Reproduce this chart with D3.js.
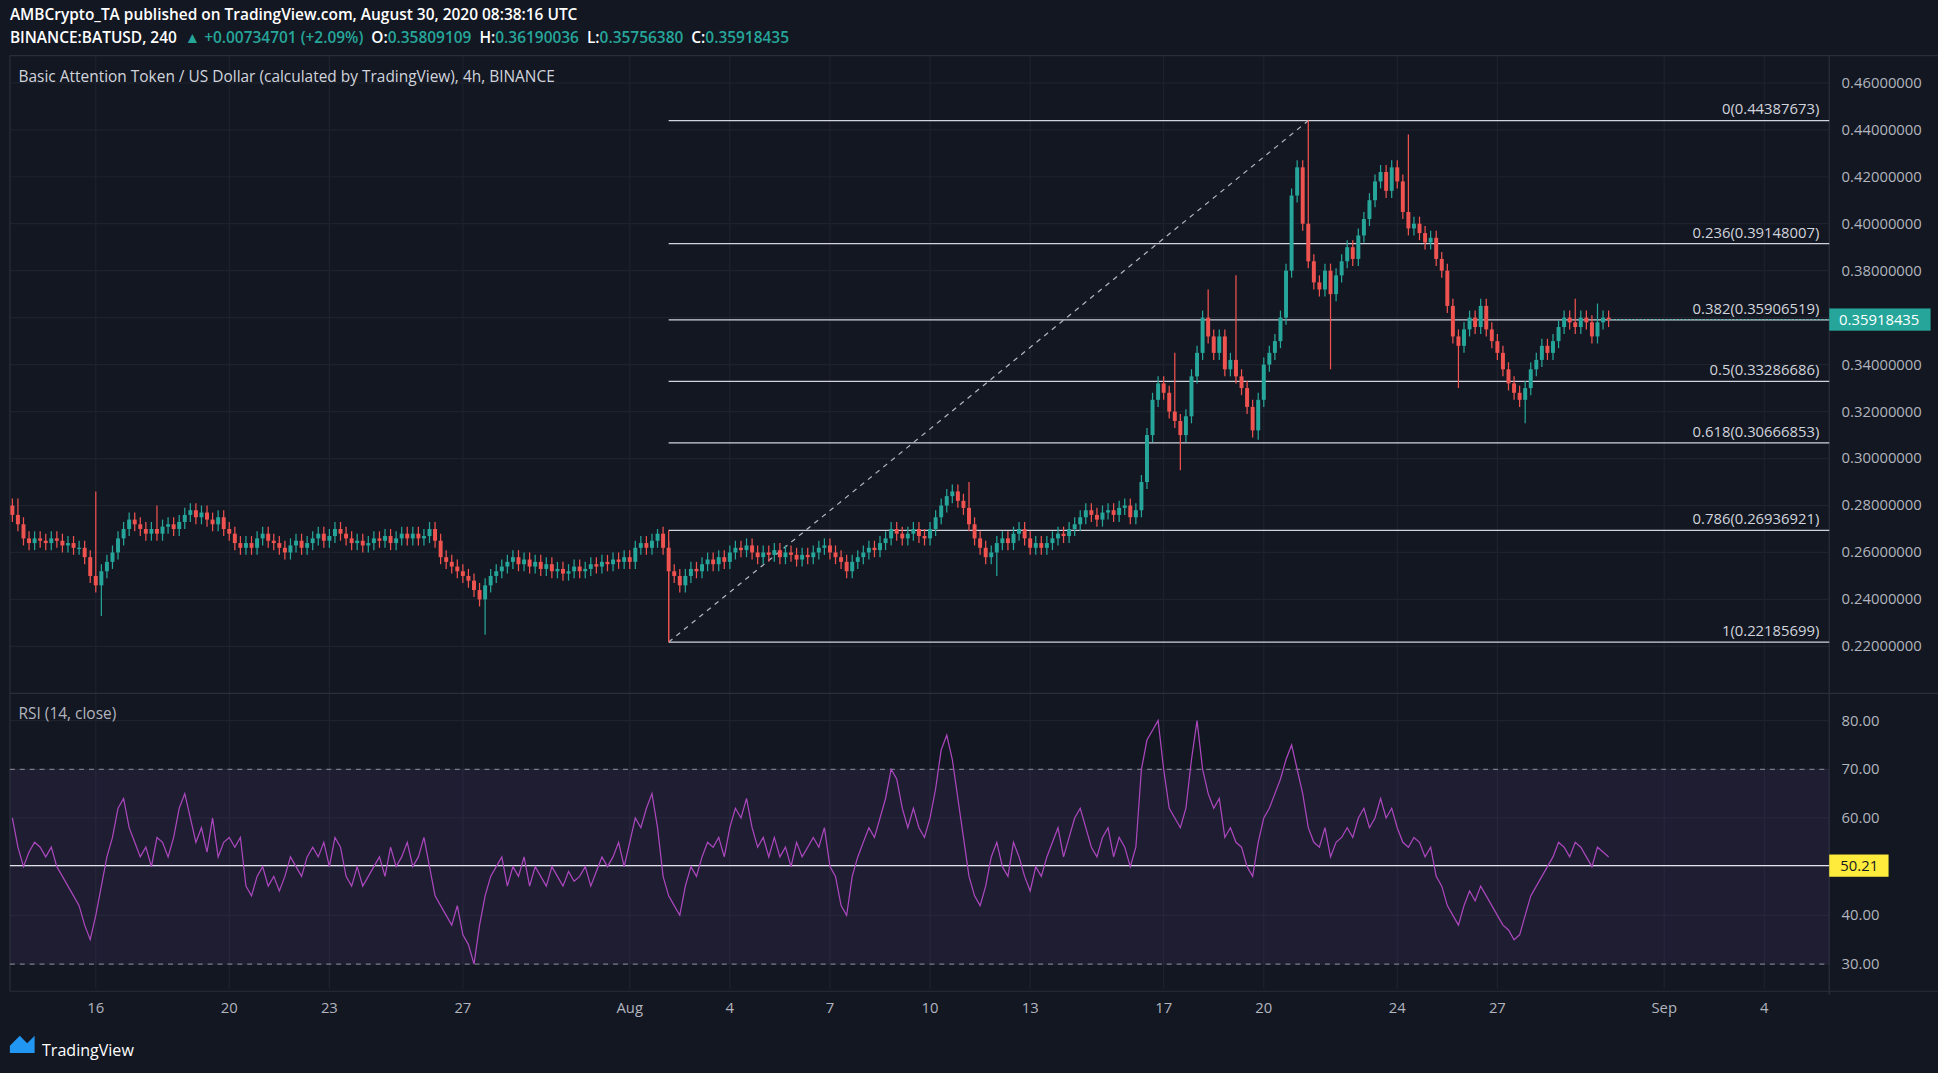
<!DOCTYPE html>
<html><head><meta charset="utf-8">
<script src="https://cdn.jsdelivr.net/npm/d3@7"></script>
<style>body{margin:0;background:#131722;overflow:hidden}text{font-family:"Open Sans",Roboto,sans-serif}</style>
</head><body><svg id="c" width="1938" height="1073"></svg>
<script>
// closes, one per 4h candle, starting Jul 13 12:00
var closes = [
.276,.272,.266,.264,.266,.265, .264,.266,.265,.263,.264,.262, .262,.258,.250,.246,.252,.256,
.260,.266,.270,.274,.272,.270, .268,.270,.268,.271,.272,.270, .273,.276,.278,.275,.277,.274,
.272,.275,.270,.268,.264,.262, .264,.262,.266,.268,.265,.264, .262,.260,.263,.265,.262,.264,
.266,.268,.265,.267,.270,.268, .266,.264,.265,.263,.264,.266, .265,.267,.264,.266,.268,.266,
.268,.266,.267,.270,.265,.258, .256,.254,.252,.250,.248,.244, .240,.246,.250,.252,.254,.256,
.258,.255,.257,.254,.256,.253, .255,.252,.253,.251,.252,.254, .252,.253,.255,.254,.256,.255,
.257,.256,.258,.256,.262,.264, .262,.265,.268,.262,.252,.250, .246,.250,.253,.252,.255,.257,
.255,.258,.256,.260,.262,.261, .263,.260,.258,.260,.259,.261, .258,.260,.259,.257,.259,.258,
.260,.262,.263,.260,.258,.256, .252,.256,.258,.260,.262,.261, .264,.266,.270,.268,.266,.268,
.270,.267,.266,.270,.275,.280, .284,.286,.282,.279,.272,.266, .262,.258,.260,.264,.266,.264,
.268,.270,.266,.262,.264,.262, .264,.266,.268,.267,.270,.272, .275,.278,.276,.274,.277,.278,
.276,.279,.280,.275,.278,.290, .310,.325,.332,.328,.320,.316, .310,.318,.335,.345,.360,.352,
.345,.352,.338,.342,.335,.330, .322,.312,.325,.340,.345,.350, .360,.380,.412,.424,.400,.384,
.375,.372,.380,.370,.378,.384, .390,.385,.395,.402,.410,.418, .422,.414,.424,.418,.405,.398,
.400,.396,.392,.394,.385,.380, .365,.352,.348,.355,.360,.356, .365,.355,.350,.345,.338,.332,
.328,.325,.330,.338,.342,.348, .345,.350,.356,.360,.358,.356, .360,.358,.352,.358,.360,.359];
var firstOpen = .280;
// notable wicks [candle index, price]
var highWicks = [[1,.283],[15,.286],[26,.280],[116,.270],[172,.290],[209,.345],[215,.372],[220,.378],[233,.444],[251,.438],[281,.368],[285,.366]];
var lowWicks = [[16,.233],[85,.225],[118,.222],[177,.250],[210,.295],[224,.308],[237,.338],[260,.330],[272,.315]];
var rsi = [
60,54,50,53,55,54, 52,54,50,48,46,44, 42,38,35,40,46,52, 56,62,64,58,55,52, 54,50,56,55,52,56,
62,65,60,55,58,53, 60,52,55,56,54,56, 46,44,48,50,46,48, 45,48,52,50,48,52, 54,52,55,50,56,54,
48,46,50,46,48,50, 52,48,54,50,52,55, 50,52,56,50,44,42, 40,38,42,36,34,30, 38,44,48,50,52,46,
50,48,52,46,50,48, 46,50,48,46,49,47, 48,50,46,49,52,50, 52,55,50,55,60,58, 62,65,58,48,44,42,
40,46,50,48,52,55, 54,56,52,58,62,60, 64,58,54,56,52,56, 52,54,50,55,52,54, 56,54,58,50,48,42,
40,48,52,55,58,56, 60,64,70,68,62,58, 62,58,56,60,66,74, 77,72,64,56,48,44, 42,46,52,55,50,48,
55,52,48,45,50,48, 52,55,58,52,56,60, 62,58,54,52,56,58, 52,56,54,50,54,70, 76,78,80,70,62,60,
58,62,72,80,70,65, 62,64,56,58,55,54, 50,48,55,60,62,65, 68,72,75,70,65,58, 55,54,58,52,55,56,
58,56,60,62,58,60, 64,60,62,58,55,54, 56,55,52,54,48,46, 42,40,38,42,45,43, 46,44,42,40,38,37,
35,36,40,44,46,48, 50,52,55,54,52,55, 54,52,50,54,53,52];
var fibLevels = [0, 0.236, 0.382, 0.5, 0.618, 0.786, 1];
var fibPrices = [0.44387673, 0.39148007, 0.35906519, 0.33286686, 0.30666853, 0.26936921, 0.22185699];
var fibStart = 118, fibEnd = 233; // candle indexes of the swing low and high
var priceTicks = [0.22,0.24,0.26,0.28,0.30,0.32,0.34,0.36,0.38,0.40,0.42,0.44,0.46];
var rsiTicks = [30,40,50,60,70,80];
var tickDays = [16,20,23,27,32,35,38,41,44,48,51,55,58,63,66]; // days counted from Jul 0
var tickLabels = ['16','20','23','27','Aug','4','7','10','13','17','20','24','27','Sep','4'];

var svg = d3.select('#c');
var g = svg.append('g').attr('transform','scale(' + (1938/1568) + ')');
var W = 1480;
var x = d3.scaleLinear().domain([0, 287]).range([10, 1301.5]);
var y = d3.scaleLinear().domain([0.22, 0.46]).range([523, 67]);
var yr = d3.scaleLinear().domain([30, 80]).range([780, 583]);
var dayIdx = function(d){ return (d - 13.5) * 6; };

// grid
g.selectAll('.gh').data(priceTicks).enter().append('line').attr('x1',8).attr('x2',W)
  .attr('y1',d=>y(d)).attr('y2',d=>y(d)).attr('stroke','#1e222d');
g.selectAll('.gr').data(rsiTicks).enter().append('line').attr('x1',8).attr('x2',W)
  .attr('y1',d=>yr(d)).attr('y2',d=>yr(d)).attr('stroke','#1e222d');
g.selectAll('.gv').data(tickDays).enter().append('line').attr('y1',45).attr('y2',800)
  .attr('x1',d=>x(dayIdx(d))).attr('x2',d=>x(dayIdx(d))).attr('stroke','#1e222d');

// pane borders
g.append('line').attr('x1',W).attr('x2',W).attr('y1',45).attr('y2',805).attr('stroke','#2a2e39');
g.append('line').attr('x1',8).attr('x2',1568).attr('y1',561).attr('y2',561).attr('stroke','#2a2e39');
g.append('line').attr('x1',8).attr('x2',1568).attr('y1',802).attr('y2',802).attr('stroke','#2a2e39');
g.append('line').attr('x1',8).attr('x2',8).attr('y1',45).attr('y2',802).attr('stroke','#2a2e39');
g.append('line').attr('x1',8).attr('x2',1568).attr('y1',45).attr('y2',45).attr('stroke','#2a2e39');

// fib retracement
var fx0 = x(fibStart), fx1 = W;
g.selectAll('.fib').data(fibPrices).enter().append('line').attr('x1',fx0).attr('x2',fx1)
  .attr('y1',d=>y(d)).attr('y2',d=>y(d)).attr('stroke','#d1d4dc').attr('stroke-width',1);
g.selectAll('.fibt').data(fibPrices).enter().append('text').attr('x',1472).attr('y',d=>y(d)-5)
  .attr('text-anchor','end').attr('fill','#d1d4dc').attr('font-size',12)
  .text((d,i)=>fibLevels[i] + '(' + d.toFixed(8) + ')');
g.append('line').attr('x1',fx0).attr('x2',x(fibEnd)).attr('y1',y(fibPrices[6])).attr('y2',y(fibPrices[0]))
  .attr('stroke','#b2b5be').attr('stroke-dasharray','4,4');
g.append('line').attr('x1',fx0).attr('x2',fx0).attr('y1',y(fibPrices[5])).attr('y2',y(fibPrices[6]))
  .attr('stroke','#ef5350');

// candles
var hiMap = new Map(highWicks), loMap = new Map(lowWicks);
var candles = closes.map(function(c,i){
  var o = i ? closes[i-1] : firstOpen;
  var h = hiMap.has(i) ? hiMap.get(i) : Math.max(o,c) + 0.003;
  var l = loMap.has(i) ? loMap.get(i) : Math.min(o,c) - 0.003;
  return {i:i,o:o,c:c,h:h,l:l};
});
var col = d=>d.c >= d.o ? '#26a69a' : '#ef5350';
var cg = g.append('g');
cg.selectAll('.w').data(candles).enter().append('line')
  .attr('x1',d=>x(d.i)).attr('x2',d=>x(d.i)).attr('y1',d=>y(d.h)).attr('y2',d=>y(d.l)).attr('stroke',col);
cg.selectAll('.b').data(candles).enter().append('rect')
  .attr('x',d=>x(d.i)-1.6).attr('width',3.2)
  .attr('y',d=>y(Math.max(d.o,d.c))).attr('height',d=>Math.max(1,Math.abs(y(d.o)-y(d.c)))).attr('fill',col);

// price axis
g.selectAll('.pt').data(priceTicks).enter().append('text').attr('x',1490).attr('y',d=>y(d)+4)
  .attr('fill','#b2b5be').attr('font-size',12).text(d=>d.toFixed(8));
g.append('rect').attr('x',1480).attr('y',y(0.35918435)-9).attr('width',82).attr('height',18).attr('fill','#26a69a');
g.append('text').attr('x',1488).attr('y',y(0.35918435)+4.5).attr('fill','#fff').attr('font-size',12)
  .text('0.35918435');
g.append('line').attr('x1',x(287)).attr('x2',W).attr('y1',y(0.35918435)).attr('y2',y(0.35918435))
  .attr('stroke','#26a69a').attr('stroke-dasharray','1,2');

// RSI pane
g.append('rect').attr('x',8).attr('width',W-8).attr('y',yr(70)).attr('height',yr(30)-yr(70))
  .attr('fill','#7e57c2').attr('fill-opacity',0.1);
[70,30].forEach(function(v){
  g.append('line').attr('x1',8).attr('x2',W).attr('y1',yr(v)).attr('y2',yr(v))
    .attr('stroke','#787b86').attr('stroke-dasharray','4,4');
});
g.append('line').attr('x1',8).attr('x2',W).attr('y1',yr(50.21)).attr('y2',yr(50.21)).attr('stroke','#e0e3eb');
g.append('path').datum(rsi).attr('fill','none').attr('stroke','#ab47bc').attr('stroke-width',1)
  .attr('d',d3.line().x((d,i)=>x(i)).y(d=>yr(d)));
g.selectAll('.rt').data(rsiTicks.filter(d=>d!=50)).enter().append('text').attr('x',1490).attr('y',d=>yr(d)+4)
  .attr('fill','#b2b5be').attr('font-size',12).text(d=>d.toFixed(2));
g.append('rect').attr('x',1480).attr('y',yr(50.21)-9).attr('width',48).attr('height',18).attr('fill','#ffeb3b');
g.append('text').attr('x',1489).attr('y',yr(50.21)+4.5).attr('fill','#131722').attr('font-size',12).text('50.21');
g.append('text').attr('x',15).attr('y',582).attr('fill','#b2b5be').attr('font-size',12.5).text('RSI (14, close)');

// time axis
g.selectAll('.xt').data(tickDays).enter().append('text').attr('x',d=>x(dayIdx(d))).attr('y',820)
  .attr('text-anchor','middle').attr('fill','#b2b5be').attr('font-size',12).text((d,i)=>tickLabels[i]);

// header
g.append('text').attr('x',8).attr('y',16).attr('fill','#fff').attr('font-size',12.5).attr('font-weight',600)
  .text('AMBCrypto_TA published on TradingView.com, August 30, 2020 08:38:16 UTC');
var h2 = g.append('text').attr('x',8).attr('y',35).attr('font-size',12.5).attr('font-weight',600).attr('fill','#fff')
  .attr('xml:space','preserve').style('white-space','pre');
h2.append('tspan').text('BINANCE:BATUSD, 240  ');
h2.append('tspan').attr('fill','#26a69a').text('▲ +0.00734701 (+2.09%)  ');
[['O:','0.35809109'],['H:','0.36190036'],['L:','0.35756380'],['C:','0.35918435']].forEach(function(p){
  h2.append('tspan').attr('fill','#fff').text(p[0]);
  h2.append('tspan').attr('fill','#26a69a').text(p[1] + '  ');
});
g.append('text').attr('x',15).attr('y',66).attr('fill','#d1d4dc').attr('font-size',12.5)
  .text('Basic Attention Token / US Dollar (calculated by TradingView), 4h, BINANCE');

// footer logo
g.append('path').attr('d','M8 846 l8 -8 l6 6 l6 -6 v14 h-20 z').attr('fill','#2196f3');
g.append('text').attr('x',34).attr('y',854).attr('fill','#fff').attr('font-size',13).text('TradingView');
</script></body></html>
